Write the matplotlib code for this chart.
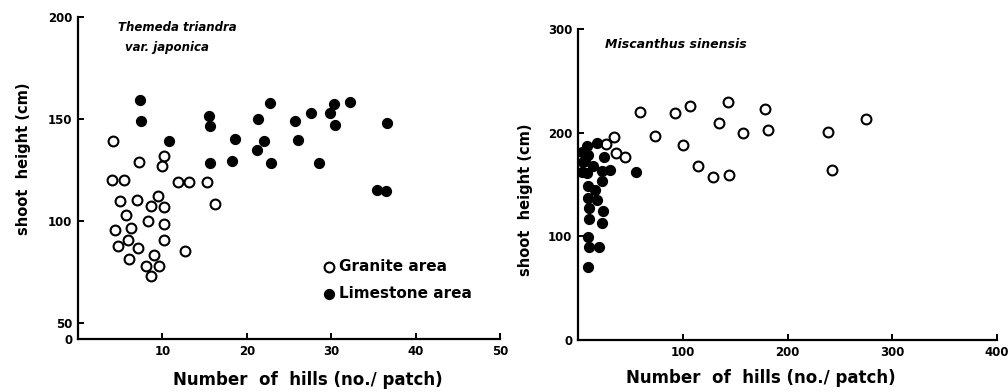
import matplotlib
matplotlib.use("Agg")
import matplotlib.pyplot as plt

# Themeda triandra var. japonica
themeda_granite_x = [4.2, 7.2, 10.2, 10.0, 4.0, 5.5, 11.8, 13.2, 15.3, 16.2,
                     5.0, 7.0, 9.5, 8.7, 10.2, 5.7, 8.3, 10.2, 4.4, 6.3,
                     5.9, 10.2, 4.7, 7.1, 12.7, 6.0, 9.0, 8.1, 9.6, 8.7]
themeda_granite_y = [139, 129, 132, 127, 120, 120, 119, 119, 119, 108,
                     109.5, 110, 112, 107.5, 107, 103, 99.7, 98.5, 95.6, 96.4,
                     90.8, 90.8, 87.7, 86.8, 85, 81.5, 83.3, 77.8, 77.8, 72.9]
themeda_lime_x = [7.3, 7.5, 10.8, 15.5, 15.6, 15.6, 18.6, 18.3, 21.3, 22.7,
                  22.0, 21.2, 22.9, 25.7, 26.1, 27.6, 28.5, 29.9, 30.3, 30.4,
                  32.2, 36.6, 35.4, 36.5]
themeda_lime_y = [159.5, 149, 139, 151.6, 146.4, 128.3, 140.2, 129.2, 150, 157.8,
                  139.2, 134.8, 128.6, 149, 139.7, 153.1, 128.3, 152.9, 157.4, 147.2,
                  158.2, 148.2, 115, 114.4]

# Miscanthus sinensis
misc_granite_x = [58.9, 73.4, 92.7, 106.6, 100.3, 114.6, 128.5, 134.2, 143.4, 143.7,
                  157.9, 178.5, 181.6, 238.9, 242.4, 274.9, 26.3, 34.2, 36.1, 45.3]
misc_granite_y = [219.6, 197.1, 219.0, 226.1, 188.4, 167.5, 157.2, 209.7, 229.3, 159.1,
                  200.0, 222.5, 202.3, 200.3, 164.3, 213.5, 189.0, 195.8, 180.4, 176.5]
misc_lime_x = [17.7, 8.2, 9.8, 24.7, 6.6, 14.6, 30.4, 22.5, 8.2, 55.7,
               22.5, 9.8, 16.1, 9.8, 18.4, 10.8, 23.4, 10.8, 22.5, 9.8,
               10.8, 20.3, 9.8, 3.5, 3.5, 5.0]
misc_lime_y = [190, 186.8, 178.7, 176.2, 172.3, 167.5, 164.3, 162.6, 161, 162,
               153, 148.2, 144.3, 136.9, 134.6, 127.2, 124.6, 116.6, 112.7, 99.8,
               89.5, 89.5, 70.2, 181, 162, 172]

plt.rcParams["font.family"] = "DejaVu Sans"
plt.rcParams["font.weight"] = "bold"

fig = plt.figure(figsize=(10.08, 3.92), dpi=100)
ax1 = fig.add_axes([78 / 1008, 53 / 392, 422 / 1008, 322 / 392])
ax2 = fig.add_axes([578 / 1008, 52 / 392, 419 / 1008, 311 / 392])

ms = 50


def style(ax):
    for s in ["top", "right"]:
        ax.spines[s].set_visible(False)
    for s in ["left", "bottom"]:
        ax.spines[s].set_linewidth(1.6)
    ax.tick_params(direction="in", length=4, width=1.4, labelsize=8.5, pad=4)
    for lab in ax.get_xticklabels() + ax.get_yticklabels():
        lab.set_fontweight("bold")
    ax.xaxis.label.set_va("center")
    ax.yaxis.label.set_va("center")


# left panel
ax1.scatter(themeda_granite_x, themeda_granite_y, s=ms, facecolors="white",
            edgecolors="black", linewidths=1.5, label="Granite area", zorder=3)
ax1.scatter(themeda_lime_x, themeda_lime_y, s=ms, color="black",
            label="Limestone area", zorder=3)
ax1.set_xlim(0, 50)
ax1.set_ylim(42, 200)
ax1.set_xticks([10, 20, 30, 40, 50])
ax1.set_yticks([42, 50, 100, 150, 200])
ax1.set_yticklabels(["0", "50", "100", "150", "200"])
ax1.set_ylabel("shoot  height (cm)", fontsize=10.5, fontweight="bold")
ax1.set_xlabel("Number  of  hills (no./ patch)", fontsize=12, fontweight="bold")
style(ax1)
ax1.yaxis.set_label_coords(-0.13, 0.56)
ax1.xaxis.set_label_coords(0.545, -0.127)
ax1.text(0.095, 0.966, "Themeda triandra", transform=ax1.transAxes, fontsize=8.5,
         style="italic", fontweight="bold", va="center")
ax1.text(0.111, 0.904, "var. japonica", transform=ax1.transAxes, fontsize=8.5,
         style="italic", fontweight="bold", va="center")
ax1.legend(loc="upper left", bbox_to_anchor=(0.545, 0.29), frameon=False,
           handletextpad=0.1, handlelength=1.0, labelspacing=0.75,
           prop={"size": 11, "weight": "bold"})

# right panel
ax2.scatter(misc_granite_x, misc_granite_y, s=ms, facecolors="white",
            edgecolors="black", linewidths=1.5, zorder=3)
ax2.scatter(misc_lime_x, misc_lime_y, s=ms, color="black", zorder=3)
ax2.set_xlim(0, 400)
ax2.set_ylim(0, 300)
ax2.set_xticks([100, 200, 300, 400])
ax2.set_yticks([0, 100, 200, 300])
ax2.set_ylabel("shoot  height (cm)", fontsize=10.5, fontweight="bold")
ax2.set_xlabel("Number  of  hills (no./ patch)", fontsize=12, fontweight="bold")
style(ax2)
ax2.yaxis.set_label_coords(-0.126, 0.45)
ax2.xaxis.set_label_coords(0.437, -0.122)
ax2.text(0.064, 0.949, "Miscanthus sinensis", transform=ax2.transAxes, fontsize=9,
         style="italic", fontweight="bold", va="center")

fig.savefig("out.png", dpi=100)
